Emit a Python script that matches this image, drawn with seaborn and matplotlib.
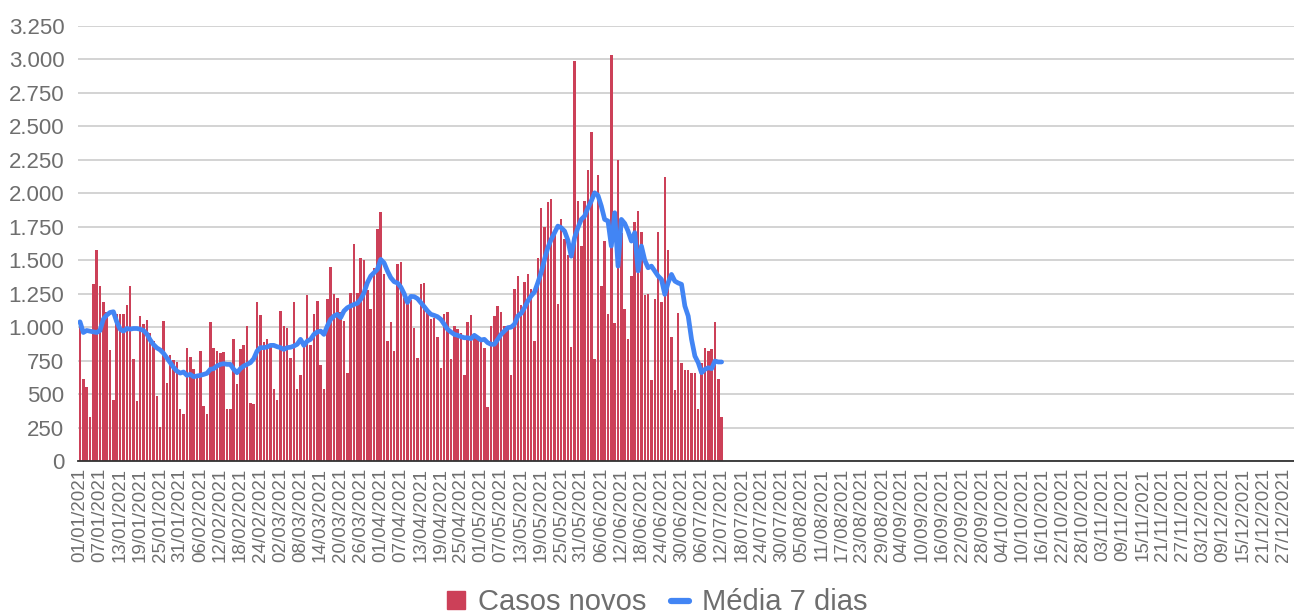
import numpy as np
import pandas as pd
import matplotlib
matplotlib.use('Agg')
import matplotlib.pyplot as plt
import seaborn as sns
from matplotlib.patches import Patch
from matplotlib.lines import Line2D
from matplotlib.ticker import FuncFormatter

# casos novos por dia (01/01/2021 a 12/07/2021)
casos_novos = [
    1000, 615, 550, 330, 1320, 1575, 1310, 1185, 1110, 830,
    455, 1095, 1095, 1100, 1165, 1305, 760, 445, 1080, 1020,
    1055, 960, 895, 485, 255, 1045, 580, 790, 755, 740,
    390, 350, 845, 780, 685, 640, 820, 410, 350, 1035,
    845, 820, 810, 815, 390, 390, 910, 575, 835, 865,
    1005, 435, 425, 1185, 1090, 890, 910, 865, 540, 455,
    1120, 1005, 995, 770, 1185, 540, 640, 870, 1240, 870,
    1100, 1195, 720, 535, 1210, 1450, 1245, 1215, 1110, 1045,
    660, 1255, 1620, 1255, 1520, 1500, 1280, 1135, 1445, 1730,
    1860, 1400, 895, 1035, 820, 1470, 1490, 1220, 1170, 1200,
    995, 770, 1320, 1330, 1110, 1060, 1070, 930, 695, 1095,
    1110, 760, 1010, 985, 960, 645, 1035, 1090, 945, 910,
    920, 845, 405, 1010, 1085, 1160, 1110, 1010, 1010, 645,
    1285, 1380, 1165, 1335, 1395, 1285, 895, 1520, 1890, 1750,
    1935, 1955, 1705, 1170, 1805, 1655, 1540, 850, 2990, 1940,
    1610, 1940, 2175, 2460, 760, 2140, 1305, 1645, 1095, 3030,
    1030, 2250, 1700, 1135, 910, 1380, 1785, 1870, 1710, 1240,
    1245, 605, 1210, 1710, 1185, 2125, 1575, 930, 530, 1105,
    730, 680, 680, 655, 655, 385, 735, 845, 825, 835,
    1040, 615, 330,
]

# média móvel de 7 dias
media_7_dias = [
    1040, 960, 975, 970, 965, 960, 975, 1060, 1090, 1110,
    1115, 1040, 985, 970, 990, 985, 990, 990, 985, 975,
    950, 905, 870, 845, 830, 805, 770, 735, 700, 672,
    657, 665, 640, 647, 630, 635, 640, 647, 655, 685,
    690, 710, 722, 727, 722, 722, 685, 660, 690, 710,
    722, 735, 765, 822, 847, 847, 852, 864, 864, 854,
    847, 834, 847, 850, 859, 872, 909, 864, 896, 909,
    946, 964, 971, 946, 1008, 1058, 1083, 1096, 1071, 1121,
    1145, 1158, 1170, 1178, 1208, 1257, 1332, 1382, 1407, 1432,
    1506, 1480, 1420, 1370, 1340, 1330, 1300, 1250, 1185, 1230,
    1228, 1213, 1183, 1153, 1121, 1096, 1088, 1078, 1058, 1021,
    984, 964, 946, 939, 929, 921, 921, 914, 939, 921,
    904, 909, 884, 872, 872, 909, 946, 971, 996, 1000,
    1021, 1083, 1103, 1145, 1195, 1233, 1262, 1332, 1407, 1506,
    1594, 1656, 1706, 1755, 1743, 1718, 1650, 1530, 1668, 1743,
    1805, 1830, 1892, 1942, 2004, 1984, 1905, 1805, 1793, 1606,
    1855, 1456, 1805, 1775, 1718, 1643, 1706, 1420, 1606, 1500,
    1444, 1456, 1419, 1382, 1357, 1245, 1332, 1394, 1344, 1330,
    1320, 1158, 1083, 909, 784, 735, 660, 685, 697, 690,
    747, 740, 740,
]

datas = pd.date_range('2021-01-01', '2021-12-31', freq='D')
rotulos = [d.strftime('%d/%m/%Y') for d in datas[::6]]

n = len(casos_novos)
df = pd.DataFrame({'dia': np.arange(n), 'casos': casos_novos})
df_media = pd.DataFrame({'dia': np.arange(n), 'media': media_7_dias})

vermelho = '#CC4058'
azul = '#4285F4'
cinza = '#6E6E6E'

sns.set_style('white')
plt.rcParams['font.family'] = ['Liberation Sans', 'DejaVu Sans']

fig = plt.figure(figsize=(12.94, 6.16), dpi=100)
ax = fig.add_axes([78.3 / 1294, 0.2516, (1298.1 - 78.3) / 1294, 0.7062])

sns.barplot(data=df, x='dia', y='casos', native_scale=True, color=vermelho,
            saturation=1, width=0.75, linewidth=0, ax=ax)
sns.lineplot(data=df_media, x='dia', y='media', color=azul, linewidth=3.4, ax=ax)

ax.set_xlim(-0.5, len(datas) - 0.5)
ax.set_ylim(0, 3250)
ax.set_yticks(np.arange(0, 3251, 250))
ax.yaxis.set_major_formatter(FuncFormatter(lambda v, p: f'{int(v):,}'.replace(',', '.')))
ax.set_xticks(np.arange(0, len(datas), 6))
ax.set_xticklabels(rotulos, rotation=90, fontsize=13.5, color=cinza)
ax.tick_params(axis='y', labelsize=16, colors=cinza, length=0, pad=10)
ax.tick_params(axis='x', length=0, pad=5)
ax.grid(axis='y', color='#D0D0D0', linewidth=1.3)
ax.set_axisbelow(True)
for lado in ['top', 'right', 'left']:
    ax.spines[lado].set_visible(False)
ax.spines['bottom'].set_color('#333333')
ax.spines['bottom'].set_linewidth(1.3)
ax.set_xlabel('')
ax.set_ylabel('')

handles = [Patch(color=vermelho), Line2D([], [], color=azul, linewidth=4.5)]
fig.legend(handles, ['Casos novos', 'Média 7 dias'], loc='center', bbox_to_anchor=(0.508, 0.022),
           ncol=2, frameon=False, fontsize=21, labelcolor=cinza, handlelength=0.6,
           handleheight=0.6, handletextpad=0.45, columnspacing=0.85)

fig.savefig('out.png', dpi=100)
